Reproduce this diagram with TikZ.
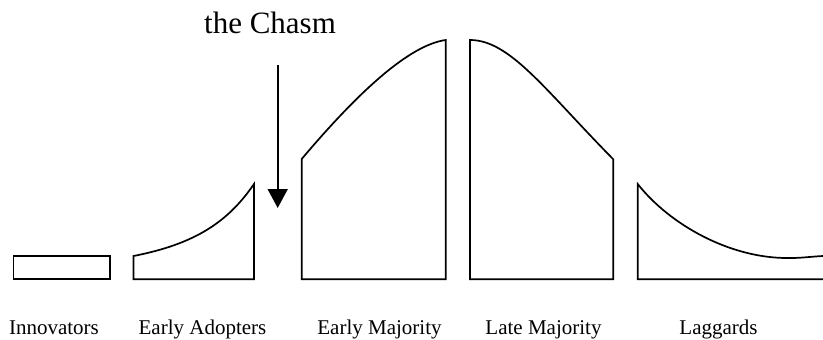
\documentclass[tikz,border=0pt]{standalone}
\usepackage{fontspec}
\setmainfont{Liberation Serif}
\usetikzlibrary{arrows.meta}
\begin{document}
\begin{tikzpicture}[x=1pt,y=-1pt,
  seg/.style={draw=black,line width=1.7pt,line join=miter},
  lbl/.style={anchor=base,inner sep=0pt,font=\fontsize{21}{21}\selectfont},
  chasmlbl/.style={anchor=base,inner sep=0pt,font=\fontsize{31}{31}\selectfont},
  pointer/.style={draw=black,line width=1.7pt,-{Triangle[width=20pt,length=19pt]}}]
\useasboundingbox (0,0) rectangle (823,340);
% Innovators
\draw[seg] (13.5,256) rectangle (110,279.3);
% Early Adopters
\draw[seg] (133.5,279.3) -- (133.5,256) .. controls (195,244) and (228,222) .. (254,184) -- (254,279.3) -- cycle;
% Early Majority
\draw[seg] (301.7,279.3) -- (301.7,159) .. controls (360,90) and (410,45) .. (445.7,40) -- (445.7,279.3) -- cycle;
% Late Majority
\draw[seg] (470,279.3) -- (470,40) .. controls (510,40) and (545,90) .. (613.3,159.3) -- (613.3,279.3) -- cycle;
% Laggards
\draw[seg] (823,279.3) -- (637.7,279.3) -- (637.7,184) .. controls (670,225) and (730,258) .. (787,258) .. controls (800,258.3) and (812,256.5) .. (823,256);
% chasm arrow
\coordinate (arrtop) at (277.7,65);
\coordinate (arrtip) at (277.7,208);
\draw[pointer] (arrtop) -- (arrtip);
\node[chasmlbl] (chasm) at (270,33) {the Chasm};
% labels
\node[lbl] (innov) at (54,334) {Innovators};
\node[lbl] (early) at (202.5,334) {Early Adopters};
\node[lbl] (emaj) at (379.5,334) {Early Majority};
\node[lbl] (lmaj) at (543.5,334) {Late Majority};
\node[lbl] (lagg) at (718.5,334) {Laggards};
\end{tikzpicture}
\end{document}
